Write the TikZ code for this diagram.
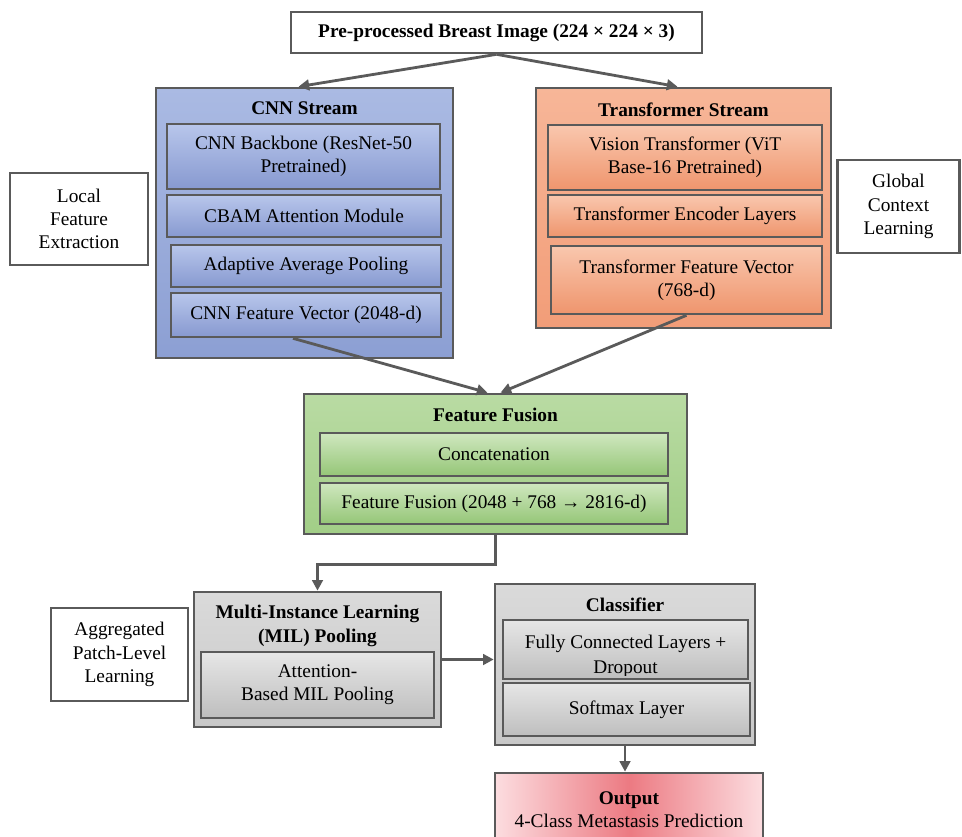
\documentclass[tikz,border=0pt]{standalone}
\usepackage{fontspec}
\setmainfont{Liberation Serif}
\usetikzlibrary{calc,arrows.meta}
\definecolor{lg}{HTML}{5A5A5A}
\definecolor{bluetopO}{HTML}{AABAE3}
\definecolor{bluebotO}{HTML}{8C9FD3}
\definecolor{bluetopS}{HTML}{B8C6EB}
\definecolor{bluebotS}{HTML}{8799D0}
\definecolor{ortopO}{HTML}{F7B698}
\definecolor{orbotO}{HTML}{F29D78}
\definecolor{ortopS}{HTML}{F9C7AE}
\definecolor{orbotS}{HTML}{EF956D}
\definecolor{grtopO}{HTML}{B9DBA3}
\definecolor{grbotO}{HTML}{A2CE87}
\definecolor{grtopS}{HTML}{CFE7BF}
\definecolor{grbotS}{HTML}{95C677}
\definecolor{gytopO}{HTML}{DADADA}
\definecolor{gybotO}{HTML}{C8C8C8}
\definecolor{gytopS}{HTML}{E6E6E6}
\definecolor{gybotS}{HTML}{BEBEBE}
\definecolor{pkmid}{HTML}{EC7A82}
\definecolor{pkedge}{HTML}{FCDDE0}
\begin{document}
\begin{tikzpicture}[x=0.75pt,y=-0.75pt,
  every node/.style={font=\fontsize{14.5}{17.5}\selectfont},
  sz/.style 2 args={minimum width={#1*0.75pt}, minimum height={#2*0.75pt}},
  bx/.style={draw=lg, line width=2pt, inner sep=0pt, align=center},
  lbl/.style={inner sep=0pt, align=center},
  ttl/.style={inner sep=0pt, align=center, font=\fontsize{14.5}{18.5}\selectfont\bfseries},
  blueO/.style={top color=bluetopO, bottom color=bluebotO},
  blueS/.style={top color=bluetopS, bottom color=bluebotS},
  orO/.style={top color=ortopO, bottom color=orbotO},
  orS/.style={top color=ortopS, bottom color=orbotS},
  grO/.style={top color=grtopO, bottom color=grbotO},
  grS/.style={top color=grtopS, bottom color=grbotS},
  gyO/.style={top color=gytopO, bottom color=gybotO},
  gyS/.style={top color=gytopS, bottom color=gybotS},
  arr/.style={draw=lg, line width=2.1pt, -{Triangle[length=8pt,width=8pt]}}
]
\useasboundingbox (0,0) rectangle (962,837);
\fill[white] (0,0) rectangle (962,837);
\clip (0,0) rectangle (962,837);

% top input
\node[bx, fill=white, sz={411}{41}, font=\fontsize{14.5}{17.5}\selectfont\bfseries] (top) at (496.5,32.5) {Pre-processed Breast Image (224 × 224 × 3)};

% CNN stream
\node[bx, blueO, sz={297}{270}] (cnn) at (304.5,223) {};
\node[ttl] (cnnT) at (304.5,108) {CNN Stream};
\node[bx, blueS, sz={273}{65}] (cnn1) at (303.5,156.5) {CNN Backbone (ResNet-50\\Pretrained)};
\node[bx, blueS, sz={274}{42}] (cnn2) at (304,216) {CBAM Attention Module};
\node[bx, blueS, sz={270}{42}] (cnn3) at (306,266) {Adaptive Average Pooling};
\node[bx, blueS, sz={270}{44}] (cnn4) at (306,315) {CNN Feature Vector (2048-d)};

% Transformer stream
\node[bx, orO, sz={295}{240}] (tr) at (683.5,208) {};
\node[ttl] (trT) at (683.5,110) {Transformer Stream};
\node[bx, orS, sz={274}{65}] (tr1) at (685,157.5) {Vision Transformer (ViT\\Base-16 Pretrained)};
\node[bx, orS, sz={274}{42}] (tr2) at (685,216) {Transformer Encoder Layers};
\node[bx, orS, sz={271}{68}] (tr3) at (686.5,280) {Transformer Feature Vector\\(768-d)};

% side labels
\node[bx, fill=white, line width=1.6pt, sz={138}{92}] (local) at (79,219) {Local\\Feature\\Extraction};
\node[bx, fill=white, line width=1.6pt, sz={122}{93}] (global) at (898.5,206.5) {Global\\Context\\Learning};
\node[bx, fill=white, line width=1.6pt, sz={137}{93}] (agg) at (119.5,654.5) {Aggregated\\Patch-Level\\Learning};

% Fusion
\node[bx, grO, sz={383}{140}] (fus) at (495.5,464) {};
\node[ttl] (fusT) at (495.5,415) {Feature Fusion};
\node[bx, grS, sz={348}{43}] (fus1) at (494,454.5) {Concatenation};
\node[bx, grS, sz={348}{41}] (fus2) at (494,503.5) {Feature Fusion (2048 + 768 → 2816-d)};

% MIL
\node[bx, gyO, sz={247}{135}] (mil) at (317.5,659.5) {};
\node[ttl] (milT) at (317.5,626) {Multi-Instance Learning\\(MIL) Pooling};
\node[bx, gyS, sz={233}{66}] (mil1) at (317.5,685) {Attention-\\Based MIL Pooling};

% Classifier
\node[bx, gyO, sz={260}{161}] (cls) at (625,664.5) {};
\node[ttl] (clsT) at (625,605) {Classifier};
\node[bx, gyS, sz={245}{59}] (cls1) at (625.5,649.5) {};
\begin{scope}
\clip ($(cls1.south west)+(2,-5)$) rectangle ($(cls1.north east)+(-2,2)$);
\node[lbl, anchor=base] (cls1T) at (625.5,648) {Fully Connected Layers +};
\node[lbl, anchor=base] (cls1U) at (625.5,673) {Dropout};
\end{scope}
\node[bx, gyS, sz={247}{53}] (cls2) at (626.5,709.5) {Softmax Layer};

% Output
\node[bx, left color=pkedge, right color=pkedge, middle color=pkmid, sz={268}{84}] (out) at (629,815) {};
\node[lbl] (outT) at (629,809.5) {\textbf{Output}\\4-Class Metastasis Prediction};

% connectors
\draw[arr] (top.south) -- ($(cnn.north)+(-6,0)$);
\draw[arr] (top.south) -- ($(tr.north)+(-6,0)$);
\draw[arr] ($(cnn4.south)+(-13,0)$) -- ($(fus.north)+(-8,0)$);
\draw[arr] (tr3.south) -- ($(fus.north)+(5,0)$);
\draw[arr] (fus.south) -- ++(0,29) -| (mil.north);
\draw[arr] (mil.east) -- (mil.east -| cls.west);
\draw[arr] (cls.south) -- (cls.south |- out.north);
\end{tikzpicture}
\end{document}
